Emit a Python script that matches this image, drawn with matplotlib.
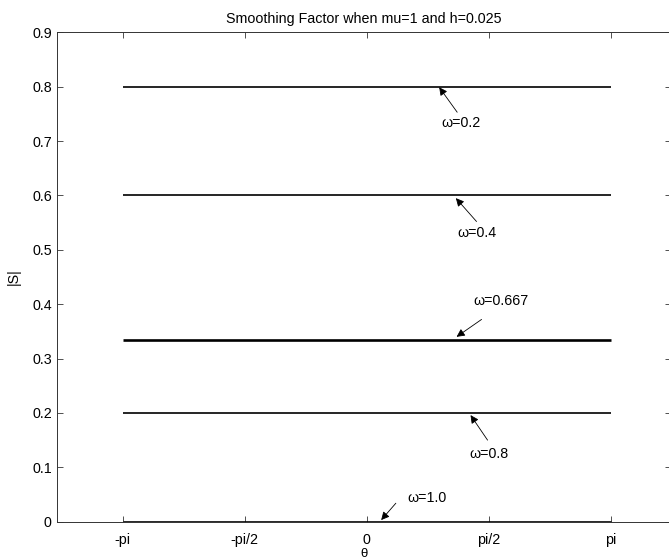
import numpy as np
import matplotlib
matplotlib.use("Agg")
import matplotlib.pyplot as plt

plt.rcParams['font.family'] = ['Liberation Sans', 'DejaVu Sans']

# smoothing factor |S| for each relaxation weight omega
omegas = ["0.2", "0.4", "0.667", "0.8", "1.0"]
s_values = [0.8, 0.6, 1/3, 0.2, 0.0]
line_widths = [1.2, 1.2, 1.9, 1.2, 1.9]

# annotation layout in data units: arrow tip, arrow tail, label centre
tips = [(0.935, 0.799), (1.150, 0.595), (1.159, 0.340), (1.339, 0.196), (0.188, 0.003)]
tails = [(1.167, 0.753), (1.416, 0.552), (1.481, 0.372), (1.558, 0.150), (0.377, 0.034)]
label_xy = [(1.212, 0.734), (1.427, 0.530), (1.729, 0.405), (1.575, 0.1245), (0.783, 0.0436)]

x_ticks = [-np.pi, -np.pi / 2, 0, np.pi / 2, np.pi]
x_tick_labels = ["-pi", "-pi/2", "0", "pi/2", "pi"]
y_ticks = np.round(np.arange(0, 0.91, 0.1), 1)
y_tick_labels = ["0", "0.1", "0.2", "0.3", "0.4", "0.5", "0.6", "0.7", "0.8", "0.9"]

theta = np.linspace(-np.pi, np.pi, 200)

W, H = 669, 559
fig = plt.figure(figsize=(W / 100, H / 100), dpi=100)
ax = fig.add_axes([56.7 / W, 37.3 / H, (671 - 56.7) / W, 489.4 / H])

for s, lw in zip(s_values, line_widths):
    ax.plot(theta, np.full_like(theta, s), color="black", lw=lw,
            solid_capstyle="butt")

for om, tip, tail, (lx, ly) in zip(omegas, tips, tails, label_xy):
    ax.annotate("", xy=tip, xytext=tail,
                arrowprops=dict(arrowstyle="-|>", color="black", lw=0.6,
                                mutation_scale=12, shrinkA=0, shrinkB=0))
    ax.text(lx, ly, "ω=" + om, ha="center", va="center", fontsize=10.3)

ax.set_xlim(-3.99, 3.92)
ax.set_ylim(0, 0.9)
ax.set_xticks(x_ticks)
ax.set_xticklabels(x_tick_labels, fontsize=10.3)
ax.set_yticks(y_ticks)
ax.set_yticklabels(y_tick_labels, fontsize=10.3)
ax.tick_params(direction="in", length=4.3, width=0.6, color="#333333",
               top=True, right=True)
ax.tick_params(axis="x", pad=8)
ax.tick_params(axis="y", pad=3.5)
for sp in ax.spines.values():
    sp.set_linewidth(0.7)
    sp.set_color("#333333")

ax.set_title("Smoothing Factor when mu=1 and h=0.025", fontsize=10.3, pad=7)
ax.set_xlabel("θ", fontsize=9.5)
ax.xaxis.set_label_coords(0.5, -26.5 / 489.4)
ax.set_ylabel("|S|", fontsize=10.3)
ax.yaxis.set_label_coords(-36 / 614.3, 0.5)

fig.savefig("out.png", dpi=100)
